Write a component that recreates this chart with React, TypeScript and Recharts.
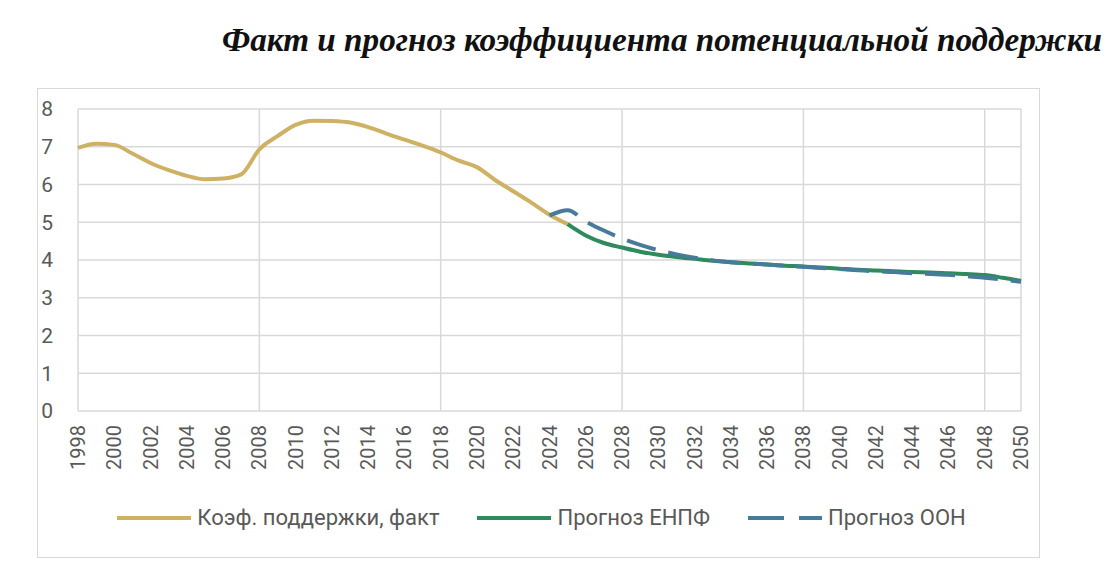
import React from "react";
import { CartesianGrid, Line, LineChart, ReferenceLine, XAxis, YAxis } from "recharts";

const years = [
  1998, 1999, 2000, 2001, 2002, 2003, 2004, 2005, 2006, 2007, 2008, 2009, 2010,
  2011, 2012, 2013, 2014, 2015, 2016, 2017, 2018, 2019, 2020, 2021, 2022, 2023,
  2024, 2025, 2026, 2027, 2028, 2029, 2030, 2031, 2032, 2033, 2034, 2035, 2036,
  2037, 2038, 2039, 2040, 2041, 2042, 2043, 2044, 2045, 2046, 2047, 2048, 2049,
  2050,
];

// fact: 1998..2025
const factValues = [
  6.97, 7.08, 7.05, 6.82, 6.57, 6.38, 6.23, 6.14, 6.16, 6.27, 6.93, 7.28, 7.58,
  7.69, 7.68, 7.64, 7.52, 7.35, 7.19, 7.03, 6.85, 6.63, 6.46, 6.12, 5.82, 5.52,
  5.2, 4.95,
];

// ENPF forecast: 2025..2050
const enpfValues = [
  4.95, 4.65, 4.45, 4.33, 4.22, 4.14, 4.08, 4.03, 3.98, 3.94, 3.91, 3.88, 3.85,
  3.83, 3.8, 3.77, 3.74, 3.72, 3.7, 3.68, 3.67, 3.65, 3.63, 3.6, 3.53, 3.45,
];

// UN forecast: 2024..2050
const oonValues = [
  5.18, 5.32, 5.02, 4.78, 4.57, 4.4, 4.26, 4.15, 4.06, 3.99, 3.94, 3.91, 3.88,
  3.85, 3.82, 3.79, 3.76, 3.73, 3.7, 3.68, 3.65, 3.63, 3.61, 3.57, 3.53, 3.48,
  3.42,
];

const xTicks = [
  1998, 2000, 2002, 2004, 2006, 2008, 2010, 2012, 2014, 2016, 2018, 2020, 2022,
  2024, 2026, 2028, 2030, 2032, 2034, 2036, 2038, 2040, 2042, 2044, 2046, 2048,
  2050,
];
const gridYears = [1998, 2008, 2018, 2028, 2038, 2048, 2050];
const yTicks = [0, 1, 2, 3, 4, 5, 6, 7, 8];

const title = "Факт и прогноз коэффициента потенциальной поддержки";
const labels = {
  fact: "Коэф. поддержки, факт",
  enpf: "Прогноз ЕНПФ",
  oon: "Прогноз ООН",
};

const FACT = "#cfb164";
const ENPF = "#2f8a5c";
const OON = "#477b9a";
const TEXT = "#595959";
const GRID = "#d9d9d9";
const FONT = "Roboto, 'Noto Sans', sans-serif";

const data = years.map((year) => {
  const fi = year - 1998;
  const ei = year - 2025;
  const oi = year - 2024;
  return {
    year,
    fact: fi < factValues.length ? factValues[fi] : null,
    enpf: ei >= 0 ? enpfValues[ei] : null,
    oon: oi >= 0 ? oonValues[oi] : null,
  };
});

function XTick(props: any) {
  const { x, y, payload } = props;
  return (
    <text
      x={x}
      y={y}
      transform={`rotate(-90 ${x} ${y})`}
      textAnchor="end"
      dominantBaseline="central"
      fill={TEXT}
      fontSize={20}
      fontFamily={FONT}
    >
      {payload.value}
    </text>
  );
}

function LegendItem({ color, dashed, label }: { color: string; dashed?: boolean; label: string }) {
  return (
    <div style={{ display: "flex", alignItems: "center" }}>
      <svg width={74} height={10} style={{ marginRight: 6 }}>
        <line
          x1={0}
          y1={5}
          x2={74}
          y2={5}
          stroke={color}
          strokeWidth={4}
          strokeDasharray={dashed ? "36 15 23 0" : undefined}
        />
      </svg>
      <span>{label}</span>
    </div>
  );
}

export default function App() {
  return (
    <div
      style={{
        position: "absolute",
        left: 0,
        top: 0,
        width: 1119,
        height: 587,
        background: "#fff",
        fontFamily: FONT,
      }}
    >
      <svg width={1119} height={70} style={{ position: "absolute", left: 0, top: 0 }}>
        <text
          x={222}
          y={51}
          textLength={880}
          lengthAdjust="spacingAndGlyphs"
          fontFamily="'Liberation Serif', serif"
          fontStyle="italic"
          fontWeight="bold"
          fontSize={33}
          fill="#111"
        >
          {title}
        </text>
      </svg>
      <div
        style={{
          position: "absolute",
          left: 37,
          top: 88,
          width: 1003,
          height: 470,
          border: `1px solid ${GRID}`,
          boxSizing: "border-box",
        }}
      />
      <div style={{ position: "absolute", left: 0, top: 0 }}>
        <LineChart
          width={1119}
          height={587}
          data={data}
          margin={{ top: 109, right: 98, bottom: 106, left: 38 }}
        >
          <CartesianGrid horizontal vertical={false} stroke={GRID} strokeWidth={1.5} />
          {gridYears.map((g) => (
            <ReferenceLine key={g} x={g} stroke={GRID} strokeWidth={1.5} />
          ))}
          <XAxis
            dataKey="year"
            type="number"
            domain={[1998, 2050]}
            ticks={xTicks}
            interval={0}
            height={70}
            axisLine={false}
            tickLine={false}
            tickSize={0}
            tickMargin={14}
            tick={<XTick />}
          />
          <YAxis
            domain={[0, 8]}
            ticks={yTicks}
            width={40}
            axisLine={false}
            tickLine={false}
            tickSize={0}
            tickMargin={25}
            tick={{ fill: TEXT, fontSize: 21, fontFamily: FONT }}
          />
          <Line
            dataKey="fact"
            type="monotone"
            stroke={FACT}
            strokeWidth={4}
            dot={false}
            isAnimationActive={false}
          />
          <Line
            dataKey="enpf"
            type="monotone"
            stroke={ENPF}
            strokeWidth={4}
            dot={false}
            isAnimationActive={false}
          />
          <Line
            dataKey="oon"
            type="monotone"
            stroke={OON}
            strokeWidth={4}
            strokeDasharray="30 13"
            dot={false}
            isAnimationActive={false}
          />
        </LineChart>
      </div>
      <div
        style={{
          position: "absolute",
          left: 37,
          width: 1009,
          top: 504,
          display: "flex",
          justifyContent: "center",
          gap: 38,
          color: TEXT,
          fontSize: 22,
          lineHeight: "28px",
        }}
      >
        <LegendItem color={FACT} label={labels.fact} />
        <LegendItem color={ENPF} label={labels.enpf} />
        <LegendItem color={OON} dashed label={labels.oon} />
      </div>
    </div>
  );
}
